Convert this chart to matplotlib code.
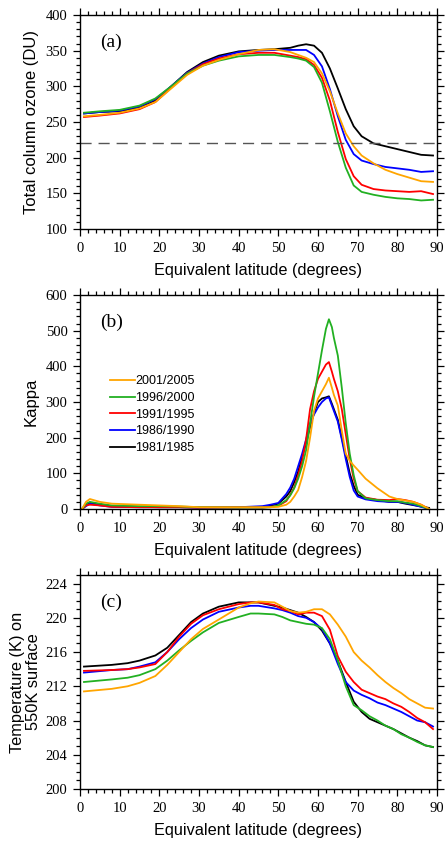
import numpy as np
import matplotlib
matplotlib.use('Agg')
from matplotlib import pyplot as plt
from matplotlib.ticker import MultipleLocator

# series names and colours (legend order)
names = ['2001/2005', '1996/2000', '1991/1995', '1986/1990', '1981/1985']
colors = ['#FFA500', '#22B022', '#FF0000', '#0000FF', '#000000']

# (a) total column ozone (DU)
lat_a = [1, 5, 10, 15, 19, 23, 27, 31, 35, 40, 45, 49, 53, 55, 57, 59, 61, 63, 65, 67, 69, 71, 74, 77, 80, 83, 86, 89]
oz_2001 = [258, 260, 263, 269, 278, 297, 316, 329, 337, 345, 351, 352, 348, 344, 340, 334, 318, 293, 262, 234, 216, 203, 192, 183, 177, 172, 167, 166]
oz_1996 = [263, 265, 267, 273, 283, 300, 318, 329, 336, 342, 344, 344, 341, 339, 336, 327, 305, 265, 222, 186, 161, 152, 148, 145, 143, 142, 140, 141]
oz_1991 = [257, 259, 262, 268, 278, 298, 318, 331, 339, 345, 347, 347, 343, 341, 338, 330, 312, 280, 236, 198, 174, 162, 156, 154, 153, 152, 153, 149]
oz_1986 = [262, 264, 266, 272, 282, 300, 319, 332, 341, 348, 350, 351, 351, 351, 351, 344, 328, 296, 258, 225, 205, 196, 191, 187, 185, 183, 180, 181]
oz_1981 = [262, 264, 265, 270, 280, 300, 320, 334, 343, 349, 351, 352, 354, 357, 359, 357, 347, 325, 297, 268, 244, 230, 220, 216, 212, 208, 204, 203]
ozone = [oz_2001, oz_1996, oz_1991, oz_1986, oz_1981]

# (b) kappa
lat_b = [0.5, 1.5, 2.5, 5, 8, 15, 20, 25, 30, 40, 46, 48, 50, 52, 53, 54, 55, 56, 57, 58, 59, 60, 61, 62,
         62.75, 63.5, 64, 65, 66, 67, 68, 69, 70, 72, 75, 78, 80, 82, 84, 86, 88]
k_2001 = [0, 20, 28, 20, 15, 12, 10, 8, 5, 5, 5, 5, 6, 12, 20, 35, 53, 90, 135, 200, 275, 310, 330, 350,
          368, 340, 320, 290, 220, 155, 135, 122, 110, 85, 58, 35, 28, 24, 20, 12, 0]
k_1996 = [0, 15, 20, 15, 10, 8, 8, 7, 5, 4, 4, 5, 10, 25, 38, 58, 85, 120, 165, 240, 315, 380, 445, 505,
          532, 510, 480, 430, 340, 240, 155, 95, 50, 30, 25, 22, 22, 18, 15, 8, 0]
k_1991 = [0, 10, 12, 10, 6, 5, 5, 5, 4, 4, 4, 6, 9, 22, 40, 60, 95, 135, 195, 280, 330, 365, 385, 405,
          412, 385, 365, 330, 280, 210, 140, 85, 50, 32, 26, 25, 28, 25, 20, 12, 0]
k_1986 = [0, 8, 15, 10, 6, 5, 5, 5, 4, 5, 8, 12, 17, 42, 60, 85, 120, 155, 195, 240, 265, 285, 300, 310,
          313, 290, 275, 245, 195, 140, 90, 52, 35, 27, 22, 20, 20, 17, 12, 6, 0]
k_1981 = [0, 10, 18, 12, 8, 6, 5, 5, 4, 5, 6, 9, 15, 35, 50, 75, 105, 145, 185, 230, 270, 300, 310, 313,
          316, 295, 280, 250, 200, 150, 100, 65, 40, 30, 25, 20, 20, 15, 11, 7, 3]
kappa = [k_2001, k_1996, k_1991, k_1986, k_1981]

# (c) temperature on 550K surface (K)
lat_c = [1, 8, 12, 15, 19, 22, 25, 28, 31, 35, 40, 43, 45, 49, 51, 53, 55, 57, 59, 61, 63, 65, 67, 69, 71, 73, 75, 77, 79, 81, 83, 85, 87, 89]
t_2001 = [211.4, 211.7, 212.0, 212.4, 213.2, 214.5, 216.0, 217.5, 218.7, 219.8, 221.2, 221.7, 221.9, 221.8, 221.3, 220.8, 220.6, 220.7, 221.0, 221.0, 220.4, 219.2, 217.8, 216.0, 215.0, 214.2, 213.3, 212.5, 211.8, 211.2, 210.5, 210.0, 209.5, 209.4]
t_1996 = [212.5, 212.8, 213.0, 213.3, 214.0, 215.0, 216.2, 217.3, 218.3, 219.4, 220.1, 220.5, 220.5, 220.4, 220.1, 219.7, 219.5, 219.3, 219.2, 218.8, 217.5, 215.0, 212.0, 209.8, 209.2, 208.5, 208.0, 207.4, 207.0, 206.4, 206.0, 205.5, 205.1, 204.9]
t_1991 = [213.8, 213.9, 214.0, 214.2, 214.6, 216.0, 217.8, 219.3, 220.3, 221.0, 221.6, 221.8, 221.8, 221.5, 221.0, 220.8, 220.4, 220.6, 220.6, 220.2, 218.6, 215.5, 213.7, 212.5, 211.6, 211.2, 210.8, 210.5, 210.0, 209.6, 209.0, 208.3, 207.8, 207.0]
t_1986 = [213.6, 213.9, 214.0, 214.3, 214.8, 216.0, 217.5, 218.8, 219.8, 220.7, 221.2, 221.4, 221.4, 221.1, 220.9, 220.6, 220.2, 220.0, 219.5, 218.7, 217.0, 214.6, 212.5, 211.5, 211.0, 210.6, 210.1, 209.8, 209.4, 209.0, 208.5, 208.0, 207.8, 207.3]
t_1981 = [214.3, 214.5, 214.7, 215.0, 215.6, 216.5, 218.0, 219.5, 220.5, 221.3, 221.8, 221.8, 221.8, 221.4, 221.2, 220.9, 220.6, 220.1, 219.5, 218.5, 217.0, 215.0, 212.5, 210.2, 209.0, 208.2, 207.8, 207.4, 207.0, 206.5, 206.0, 205.6, 205.1, 204.9]
temp = [t_2001, t_1996, t_1991, t_1986, t_1981]

serif = 'Liberation Serif'
sans = 'Liberation Sans'

W, H = 445, 843
fig = plt.figure(figsize=(W / 100, H / 100), dpi=100)


def make_axes(top_px, bottom_px):
    ax = fig.add_axes([80 / W, (H - bottom_px) / H, 357 / W, (bottom_px - top_px) / H])
    ax.set_xlim(0, 90)
    ax.xaxis.set_major_locator(MultipleLocator(10))
    ax.xaxis.set_minor_locator(MultipleLocator(2))
    ax.tick_params(which='both', direction='out', top=True, right=True,
                   labelsize=10.5, width=0.9, pad=4)
    ax.tick_params(which='major', length=5)
    ax.tick_params(which='minor', length=3)
    for s in ax.spines.values():
        s.set_linewidth(1.0)
    ax.set_xlabel('Equivalent latitude (degrees)', fontfamily=sans, fontsize=11.7, labelpad=6)
    return ax


def serif_ticks(ax):
    for lab in ax.get_xticklabels() + ax.get_yticklabels():
        lab.set_fontfamily(serif)


order = [4, 3, 2, 1, 0]

# panel (a)
ax = make_axes(15, 229)
ax.set_ylim(100, 400)
ax.yaxis.set_major_locator(MultipleLocator(50))
ax.yaxis.set_minor_locator(MultipleLocator(10))
for i in order:
    ax.plot(lat_a, ozone[i], color=colors[i], lw=1.3)
ax.axhline(220, color='#555555', lw=1.0, ls=(0, (8, 5)))
ax.set_ylabel('Total column ozone (DU)', fontfamily=sans, fontsize=12, labelpad=5)
ax.text(0.056, 0.87, '(a)', transform=ax.transAxes, fontfamily=serif, fontsize=14, va='center')
serif_ticks(ax)

# panel (b)
ax = make_axes(295, 509)
ax.set_ylim(0, 600)
ax.yaxis.set_major_locator(MultipleLocator(100))
ax.yaxis.set_minor_locator(MultipleLocator(20))
handles = {}
for i in order:
    handles[i], = ax.plot(lat_b, kappa[i], color=colors[i], lw=1.3)
ax.set_ylabel('Kappa', fontfamily=sans, fontsize=12, labelpad=5)
ax.text(0.056, 0.87, '(b)', transform=ax.transAxes, fontfamily=serif, fontsize=14, va='center')
ax.legend([handles[i] for i in range(5)], names, loc='upper left', bbox_to_anchor=(0.084, 0.625),
          frameon=False, handlelength=2.0, handletextpad=0.0, labelspacing=0.38,
          borderaxespad=0, borderpad=0, prop={'family': sans, 'size': 9})
serif_ticks(ax)

# panel (c)
ax = make_axes(575, 789)
ax.set_ylim(200, 225)
ax.set_yticks(np.arange(200, 225, 4))
ax.yaxis.set_minor_locator(MultipleLocator(1))
for i in order:
    ax.plot(lat_c, temp[i], color=colors[i], lw=1.3)
ax.set_ylabel('Temperature (K) on\n550K surface', fontfamily=sans, fontsize=11.8, labelpad=3,
              linespacing=1.1)
ax.text(0.056, 0.87, '(c)', transform=ax.transAxes, fontfamily=serif, fontsize=14, va='center')
serif_ticks(ax)

fig.savefig('out.png', dpi=100)
